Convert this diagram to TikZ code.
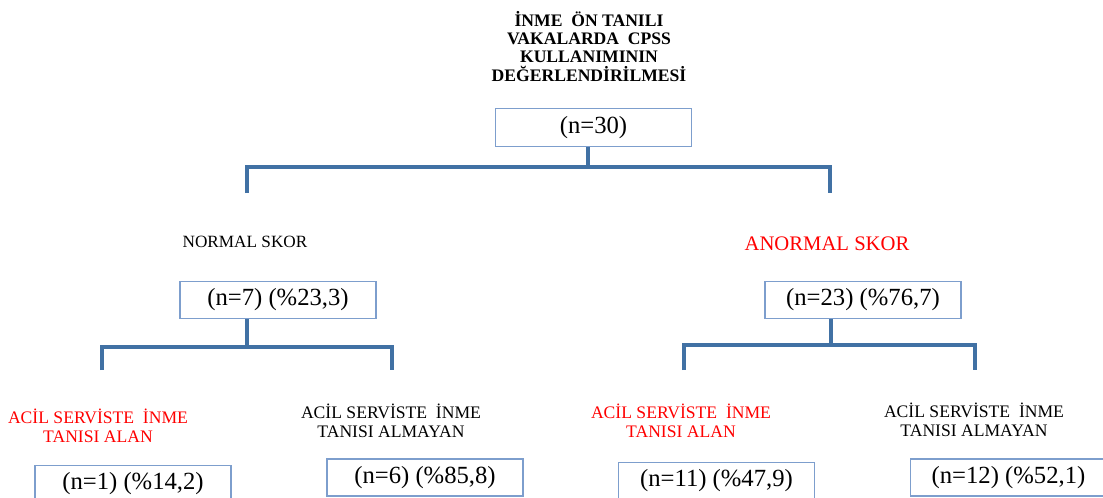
\documentclass[tikz,border=0pt]{standalone}
\usepackage{fontspec}
\setmainfont{Liberation Serif}
\definecolor{barblue}{RGB}{65,113,164}
\definecolor{boxblue}{RGB}{125,158,205}
\definecolor{alanred}{RGB}{255,0,0}
\tikzset{
  countbox/.style={draw=boxblue, line width=0.9pt, minimum width=147pt, minimum height=28pt, inner sep=0pt, font=\fontsize{18.5}{20}\selectfont},
  bar/.style={draw=barblue, line width=3pt},
  grouplabel/.style={align=center, inner sep=0pt, anchor=base, font=\fontsize{13.2}{14}\selectfont}
}
\begin{document}
\begin{tikzpicture}[x=0.75pt,y=-0.75pt]
\useasboundingbox (0,0) rectangle (1103,497);
% % Title and total
 \node[align=center, inner sep=0pt, anchor=base, font=\bfseries\fontsize{13.2}{13.6}\selectfont] (title) at (589,81)
   {İNME\ \ ÖN TANILI\\VAKALARDA\ \ CPSS\\KULLANIMININ\\DEĞERLENDİRİLMESİ};
 \node[countbox] (total) at (593.5,127.5) {(n=30)};
% % Score groups
 \node[inner sep=0pt, anchor=base, font=\fontsize{12.9}{14}\selectfont] (normal) at (245,247) {NORMAL SKOR};
 \node[inner sep=0pt, anchor=base, text=alanred, font=\fontsize{15.5}{17}\selectfont] (anormal) at (827,250) {ANORMAL SKOR};
 \node[countbox] (normaln) at (278,300) {(n=7) (\%23,3)};
 \node[countbox] (anormaln) at (863,300) {(n=23) (\%76,7)};
% % Emergency diagnosis
 \node[grouplabel, text=alanred] (nalan) at (98,442) {ACİL SERVİSTE\ \ İNME\\TANISI ALAN};
 \node[grouplabel] (nalmayan) at (391,437) {ACİL SERVİSTE\ \ İNME\\TANISI ALMAYAN};
 \node[grouplabel, text=alanred] (aalan) at (681,437) {ACİL SERVİSTE\ \ İNME\\TANISI ALAN};
 \node[grouplabel] (aalmayan) at (974,436) {ACİL SERVİSTE\ \ İNME\\TANISI ALMAYAN};
 \node[countbox, minimum height=27.75pt] (nalann) at (133,484) {(n=1) (\%14,2)};
 \node[countbox, minimum height=27.75pt] (nalmayann) at (425,477.5) {(n=6) (\%85,8)};
 \node[countbox, minimum height=27.75pt] (aalann) at (716.5,481) {(n=11) (\%47,9)};
 \node[countbox, minimum height=27.75pt] (aalmayann) at (1008.5,477.5) {(n=12) (\%52,1)};
% % Brackets
 \coordinate (topsplit) at (588,167);
 \coordinate (topleft) at (247,193);
 \coordinate (topright) at (830,193);
 \draw[bar] (total.south -| topsplit) -- (topsplit);
 \draw[bar] (topleft) -- (topleft |- topsplit) -- (topright |- topsplit) -- (topright);
 \coordinate (nsplit) at (247,347);
 \coordinate (nleft) at (102,370);
 \coordinate (nright) at (392,370);
 \draw[bar] (normaln.south -| nsplit) -- (nsplit);
 \draw[bar] (nleft) -- (nleft |- nsplit) -- (nright |- nsplit) -- (nright);
 \coordinate (asplit) at (831,345);
 \coordinate (aleft) at (684,370);
 \coordinate (aright) at (975,370);
 \draw[bar] (anormaln.south -| asplit) -- (asplit);
 \draw[bar] (aleft) -- (aleft |- asplit) -- (aright |- asplit) -- (aright);
\end{tikzpicture}
\end{document}
